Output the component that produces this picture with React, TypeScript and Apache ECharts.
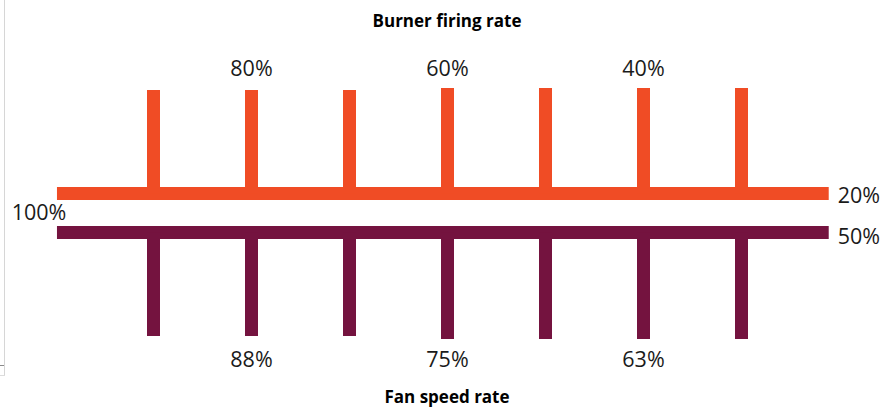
import React, { useEffect, useRef } from "react";
import * as echarts from "echarts";

// Stages along the burner / fan bars
const stages = [1, 2, 3, 4, 5, 6, 7];
// Height of each burner tick (top end, in chart units) and each fan tick (bottom end)
const burnerTickTop = [8.2, 8.2, 8.2, 8.33, 8.33, 8.33, 8.33];
const fanTickBottom = [-8.2, -8.2, -8.2, -8.4, -8.4, -8.4, -8.4];
// Labels printed at stages
const burnerLabels = ["", "80%", "", "60%", "", "40%", ""];
const fanLabels = ["", "88%", "", "75%", "", "63%", ""];
// Bar extent and levels
const barStart = 0.015;
const barEnd = 7.89;
const burnerLevel = 1.3;
const fanLevel = -1.3;
const startLabel = "100%";
const burnerEndLabel = "20%";
const fanEndLabel = "50%";
const labelLevelTop = 9.67;
const labelLevelBottom = -9.67;

const ORANGE = "#F04C25";
const PURPLE = "#74133F";
const TEXT = "#1a1a1a";
const FONT = "Open Sans";

export default function App() {
  const ref = useRef<HTMLDivElement>(null);
  useEffect(() => {
    if (!ref.current) return;
    const chart = echarts.init(ref.current, undefined, { renderer: "svg" });

    const tickRender = (color: string) => (params: any, api: any) => {
      const x = api.value(0);
      const y0 = api.value(1);
      const y1 = api.value(2);
      const p0 = api.coord([x, y0]);
      const p1 = api.coord([x, y1]);
      const w = 13;
      return {
        type: "rect",
        shape: {
          x: p0[0] - w / 2,
          y: Math.min(p0[1], p1[1]),
          width: w,
          height: Math.abs(p1[1] - p0[1]),
        },
        style: { fill: color },
      };
    };

    const labelData: any[] = [];
    stages.forEach((s, i) => {
      if (burnerLabels[i]) labelData.push({ value: [s, labelLevelTop], name: burnerLabels[i] });
      if (fanLabels[i]) labelData.push({ value: [s, labelLevelBottom], name: fanLabels[i] });
    });
    labelData.push({
      value: [-0.168, 0.07],
      name: startLabel,
    });
    labelData.push({
      value: [barEnd, burnerLevel - 0.05],
      name: burnerEndLabel,
      label: { position: [9, 0], align: "left" },
    });
    labelData.push({
      value: [barEnd, fanLevel - 0.18],
      name: fanEndLabel,
      label: { position: [9, 0], align: "left" },
    });

    chart.setOption({
      animation: false,
      title: [
        {
          text: "Burner firing rate",
          left: "center",
          top: 12,
          padding: 0,
          textStyle: { fontFamily: FONT, fontSize: 17, fontWeight: "bold", color: "#000" },
        },
        {
          text: "Fan speed rate",
          left: "center",
          top: 388,
          padding: 0,
          textStyle: { fontFamily: FONT, fontSize: 17, fontWeight: "bold", color: "#000" },
        },
      ],
      grid: { left: 6.5, right: 15.3, top: 63, bottom: 44 },
      xAxis: { type: "value", min: -0.5, max: 8.4, show: false },
      yAxis: { type: "value", min: -10, max: 10, show: false },
      series: [
        {
          type: "line",
          data: [
            [barStart, burnerLevel],
            [barEnd, burnerLevel],
          ],
          symbol: "none",
          lineStyle: { color: ORANGE, width: 13, cap: "butt" },
          z: 2,
        },
        {
          type: "line",
          data: [
            [barStart, fanLevel],
            [barEnd, fanLevel],
          ],
          symbol: "none",
          lineStyle: { color: PURPLE, width: 13, cap: "butt" },
          z: 2,
        },
        {
          type: "custom",
          renderItem: tickRender(ORANGE),
          data: stages.map((s, i) => [s, burnerLevel, burnerTickTop[i]]),
          encode: { x: 0, y: [1, 2] },
          z: 3,
        },
        {
          type: "custom",
          renderItem: tickRender(PURPLE),
          data: stages.map((s, i) => [s, fanLevel, fanTickBottom[i]]),
          encode: { x: 0, y: [1, 2] },
          z: 3,
        },
        {
          type: "scatter",
          symbolSize: 0,
          clip: false,
          itemStyle: { opacity: 1 },
          data: labelData,
          label: {
            show: true,
            position: [0, 0],
            align: "center",
            verticalAlign: "middle",
            formatter: (p: any) => p.name,
            fontFamily: FONT,
            fontSize: 21.5,
            color: TEXT,
            opacity: 1,
            textBorderWidth: 0,
          },
          z: 5,
        },
      ],
      graphic: [
        {
          type: "line",
          shape: { x1: 4.5, y1: 0, x2: 4.5, y2: 376 },
          style: { stroke: "#d6d6d6", lineWidth: 1 },
        },
        {
          type: "line",
          shape: { x1: 0, y1: 365.5, x2: 4, y2: 365.5 },
          style: { stroke: "#8a8a8a", lineWidth: 1 },
        },
        {
          type: "line",
          shape: { x1: 0, y1: 375.5, x2: 5, y2: 375.5 },
          style: { stroke: "#dcdcdc", lineWidth: 1 },
        },
      ],
    });
    return () => chart.dispose();
  }, []);
  return (
    <div
      ref={ref}
      style={{ position: "fixed", left: 0, top: 0, width: 894, height: 407, background: "#fff" }}
    />
  );
}
